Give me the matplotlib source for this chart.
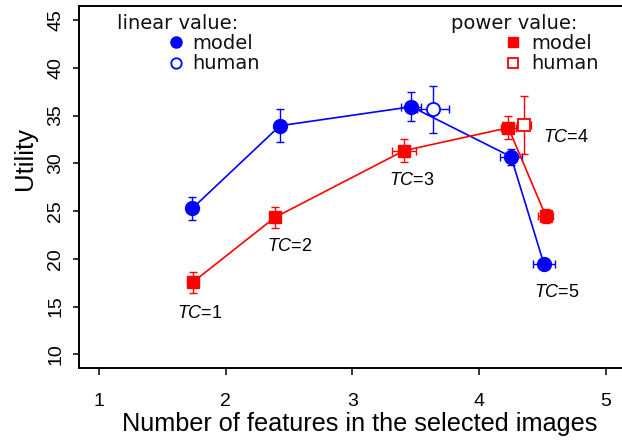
import matplotlib
matplotlib.use("Agg")
import matplotlib.pyplot as plt
from matplotlib.lines import Line2D

plt.rcParams['font.family'] = ['Liberation Sans', 'DejaVu Sans']
plt.rcParams['mathtext.fontset'] = 'custom'
plt.rcParams['mathtext.it'] = 'Liberation Sans:italic'
plt.rcParams['mathtext.rm'] = 'Liberation Sans'

# ---- data ----
tc_labels = ["1", "2", "3", "4", "5"]

lin_x = [1.735, 2.427, 3.466, 4.252, 4.513]
lin_y = [25.28, 33.93, 35.92, 30.69, 19.42]
lin_xerr = [0.0, 0.0, 0.079, 0.085, 0.09]
lin_yerr = [1.22, 1.75, 1.52, 0.84, 0.4]

pow_x = [1.738, 2.388, 3.407, 4.231, 4.526]
pow_y = [17.54, 24.34, 31.32, 33.72, 24.51]
pow_xerr = [0.0, 0.03, 0.092, 0.06, 0.06]
pow_yerr = [1.08, 1.13, 1.22, 1.22, 0.75]

lin_human_x = [3.638]
lin_human_y = [35.66]
lin_human_xerr = [0.125]
lin_human_yerr = [2.46]

pow_human_x = [4.355]
pow_human_y = [34.01]
pow_human_xerr = [0.057]
pow_human_yerr = [3.0]

# label positions (x, y) for TC annotations
tc_lab_x = [1.795, 2.506, 3.466, 4.690, 4.611]
tc_lab_y = [14.32, 21.29, 28.20, 32.70, 16.47]

xticks = [1, 2, 3, 4, 5]
yticks = [10, 15, 20, 25, 30, 35, 40, 45]

W, H = 622, 440
fig = plt.figure(figsize=(W / 100, H / 100), dpi=100)
ax = fig.add_axes([79 / W, 1 - 367.5 / H, 543 / W, 361.5 / H])

BLUE = '#0000FF'
RED = '#FF0000'

ekw = dict(fmt='none', elinewidth=1.0, capsize=3.2, capthick=1.0)
ax.errorbar(lin_x, lin_y, xerr=lin_xerr, yerr=lin_yerr, ecolor=BLUE, zorder=2, **ekw)
ax.errorbar(pow_x, pow_y, xerr=pow_xerr, yerr=pow_yerr, ecolor=RED, zorder=2, **ekw)
ax.errorbar(lin_human_x, lin_human_y, xerr=lin_human_xerr, yerr=lin_human_yerr,
            ecolor=BLUE, zorder=2, **ekw)
ax.errorbar(pow_human_x, pow_human_y, xerr=pow_human_xerr, yerr=pow_human_yerr,
            ecolor=RED, zorder=2, **ekw)

ax.plot(lin_x, lin_y, color=BLUE, lw=1.2, marker='o', ms=10, mfc=BLUE, mec=BLUE, zorder=3)
ax.plot(pow_x, pow_y, color=RED, lw=1.2, marker='s', ms=8.8, mfc=RED, mec=RED, zorder=3)
ax.plot(lin_human_x, lin_human_y, ls='none', marker='o', ms=9.5, mfc='white', mec=BLUE,
        mew=1.3, zorder=4)
ax.plot(pow_human_x, pow_human_y, ls='none', marker='s', ms=8.8, mfc='white', mec=RED,
        mew=1.3, zorder=4)

for lab, x, y in zip(tc_labels, tc_lab_x, tc_lab_y):
    ax.text(x, y, r'$\mathit{TC}$=' + lab, ha='center', va='center', fontsize=13,
            color='black')

ax.set_xlim(0.8397, 5.1288)
ax.set_ylim(8.617, 46.466)
ax.set_xticks(xticks)
ax.set_xticklabels([str(t) for t in xticks])
ax.set_yticks(yticks)
ax.set_yticklabels([str(t) for t in yticks], rotation=90, va='center')

for s in ['left', 'bottom', 'top']:
    ax.spines[s].set_linewidth(1.4)
ax.spines['right'].set_visible(False)
ax.tick_params(axis='both', direction='out', width=1.1, labelsize=14, colors='black')
ax.tick_params(axis='x', length=5, pad=13)
ax.tick_params(axis='y', length=4.5, pad=6)

ax.set_xlabel('Number of features in the selected images', fontsize=18.2)
ax.xaxis.set_label_coords((360 - 79) / 543, (367.5 - 436) / 361.5)
ax.xaxis.label.set_va('bottom')
ax.set_ylabel('Utility', fontsize=18.5)
ax.yaxis.set_label_coords((25 - 79) / 543, (367.5 - 158) / 361.5)
ax.yaxis.label.set_va('center')

# ---- legend (drawn manually, pixel positions) ----
def fx(px):
    return px / W

def fy(py):
    return 1 - py / H

lkw = dict(fontsize=14, family='DejaVu Sans', va='baseline', ha='left', color='#111111')
fig.text(fx(117), fy(29.3), 'linear value:', **lkw)
fig.text(fx(192.7), fy(49.3), 'model', **lkw)
fig.text(fx(192.7), fy(69.3), 'human', **lkw)
fig.text(fx(450.7), fy(29.3), 'power value:', **lkw)
fig.text(fx(531.7), fy(49.3), 'model', **lkw)
fig.text(fx(531.7), fy(69.3), 'human', **lkw)

fig.add_artist(Line2D([fx(176)], [fy(42.3)], marker='o', ms=8, mfc=BLUE, mec=BLUE, ls='none'))
fig.add_artist(Line2D([fx(176)], [fy(63.3)], marker='o', ms=7.5, mfc='white', mec=BLUE,
                      mew=1.3, ls='none'))
fig.add_artist(Line2D([fx(512.7)], [fy(42.3)], marker='s', ms=7, mfc=RED, mec=RED, ls='none'))
fig.add_artist(Line2D([fx(512.7)], [fy(63.3)], marker='s', ms=7, mfc='white', mec=RED,
                      mew=1.3, ls='none'))

fig.savefig('out.png', dpi=100)
